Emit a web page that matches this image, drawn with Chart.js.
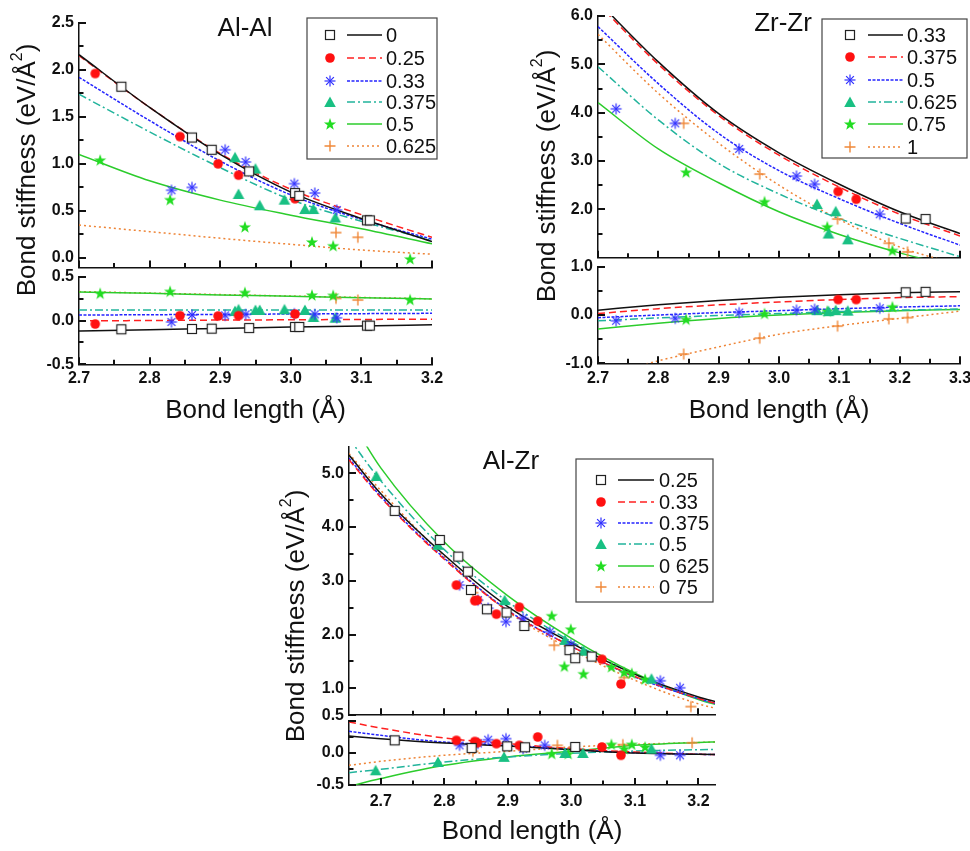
<!DOCTYPE html>
<html>
<head>
<meta charset="utf-8">
<script src="https://cdn.jsdelivr.net/npm/chart.js@4.4.1/dist/chart.umd.min.js"></script>
<style>
  html, body { margin: 0; padding: 0; background: #fff; overflow: hidden; }
  #page { position: relative; width: 970px; height: 851px; }
  #page canvas { position: absolute; }
</style>
</head>
<body>
<div id="page"></div>
<script>
// ---------- Al-Al ----------
const alalSeries = ['0', '0.25', '0.33', '0.375', '0.5', '0.625'];
const alalFitX = [2.7, 2.8, 2.9, 3.0, 3.1, 3.2];
const alalFitMain = [
  [2.16, 1.60, 1.10, 0.70, 0.42, 0.175],
  [2.15, 1.60, 1.11, 0.73, 0.46, 0.22],
  [1.92, 1.46, 1.03, 0.67, 0.41, 0.20],
  [1.74, 1.34, 0.96, 0.62, 0.39, 0.185],
  [1.10, 0.82, 0.615, 0.455, 0.31, 0.15],
  [0.35, 0.28, 0.21, 0.145, 0.085, 0.04]
];
const alalFitRes = [
  [-0.12, -0.105, -0.09, -0.075, -0.062, -0.048],
  [-0.005, 0.0, 0.005, 0.008, 0.012, 0.015],
  [0.062, 0.066, 0.07, 0.074, 0.078, 0.082],
  [0.12, 0.12, 0.12, 0.12, 0.12, 0.12],
  [0.325, 0.31, 0.292, 0.276, 0.26, 0.245],
  [0.33, 0.313, 0.296, 0.279, 0.263, 0.248]
];
const alalPtsX = [
  [2.760, 2.860, 2.888, 2.941, 3.006, 3.012, 3.108, 3.112],
  [2.723, 2.843, 2.897, 2.926, 3.006],
  [2.831, 2.860, 2.907, 2.936, 3.005, 3.034, 3.065],
  [2.921, 2.926, 2.950, 2.956, 2.991, 3.020, 3.032, 3.063],
  [2.730, 2.829, 2.935, 3.030, 3.060, 3.169],
  [3.064, 3.095]
];
const alalPtsY = [
  [1.82, 1.28, 1.15, 0.92, 0.69, 0.66, 0.40, 0.40],
  [1.96, 1.29, 1.00, 0.88, 0.63],
  [0.72, 0.75, 1.15, 1.02, 0.79, 0.69, 0.51],
  [1.07, 0.68, 0.95, 0.56, 0.62, 0.52, 0.52, 0.43],
  [1.04, 0.62, 0.33, 0.17, 0.13, -0.01],
  [0.27, 0.22]
];
const alalPtsRes = [
  [-0.10, -0.097, -0.093, -0.086, -0.074, -0.074, -0.059, -0.059],
  [-0.04, 0.055, 0.051, 0.055, 0.074],
  [-0.017, 0.063, 0.059, 0.07, 0.078, 0.07, 0.03],
  [0.108, 0.127, 0.12, 0.12, 0.127, 0.12, 0.04, 0.032],
  [0.31, 0.333, 0.32, 0.29, 0.287, 0.238],
  [0.253, 0.234]
];
const alalXMajor = [2.7, 2.8, 2.9, 3.0, 3.1, 3.2];
const alalXMinor = [2.75, 2.85, 2.95, 3.05, 3.15];
const alalYMajor = [0.0, 0.5, 1.0, 1.5, 2.0, 2.5];
const alalYMinor = [0.25, 0.75, 1.25, 1.75, 2.25];
const alalResMajor = [-0.5, 0.0, 0.5];
const alalResMinor = [-0.25, 0.25];

// ---------- Zr-Zr ----------
const zrSeries = ['0.33', '0.375', '0.5', '0.625', '0.75', '1'];
const zrFitX = [2.7, 2.8, 2.9, 3.0, 3.1, 3.2, 3.3];
const zrFitMain = [
  [6.30, 5.05, 3.98, 3.17, 2.52, 1.95, 1.50],
  [6.25, 5.00, 3.94, 3.12, 2.46, 1.90, 1.45],
  [5.78, 4.60, 3.57, 2.80, 2.22, 1.71, 1.26],
  [4.95, 3.85, 2.95, 2.32, 1.81, 1.40, 1.02],
  [4.21, 3.25, 2.55, 1.95, 1.48, 1.10, 0.80],
  [5.62, 4.40, 3.37, 2.50, 1.79, 1.22, 0.85]
];
const zrFitRes = [
  [0.10, 0.21, 0.30, 0.37, 0.42, 0.46, 0.48],
  [0.03, 0.13, 0.21, 0.27, 0.32, 0.36, 0.38],
  [-0.055, 0.0, 0.05, 0.09, 0.13, 0.165, 0.19],
  [-0.12, -0.06, -0.01, 0.03, 0.07, 0.10, 0.125],
  [-0.29, -0.17, -0.07, 0.0, 0.05, 0.09, 0.115],
  [-1.3, -0.95, -0.66, -0.40, -0.22, -0.07, 0.08]
];
const zrPtsX = [
  [3.210, 3.243],
  [3.098, 3.128],
  [2.730, 2.828, 2.934, 3.029, 3.059, 3.167],
  [3.063, 3.082, 3.094, 3.114],
  [2.846, 2.976, 3.080, 3.188],
  [2.842, 2.968, 3.097, 3.182, 3.213]
];
const zrPtsY = [
  [1.81, 1.80],
  [2.37, 2.21],
  [4.08, 3.78, 3.25, 2.69, 2.52, 1.90],
  [2.11, 1.50, 1.96, 1.38],
  [2.77, 2.16, 1.64, 1.15],
  [3.78, 2.73, 1.80, 1.30, 1.12]
];
const zrPtsRes = [
  [0.47, 0.48],
  [0.32, 0.32],
  [-0.12, -0.07, 0.05, 0.10, 0.12, 0.14],
  [0.10, 0.08, 0.10, 0.09],
  [-0.09, 0.03, 0.08, 0.17],
  [-0.81, -0.48, -0.23, -0.08, -0.055]
];
const zrXMajor = [2.7, 2.8, 2.9, 3.0, 3.1, 3.2, 3.3];
const zrXMinor = [2.75, 2.85, 2.95, 3.05, 3.15, 3.25];
const zrYMajor = [2.0, 3.0, 4.0, 5.0, 6.0];
const zrYMinor = [1.5, 2.5, 3.5, 4.5, 5.5];
const zrResMajor = [-1.0, 0.0, 1.0];
const zrResMinor = [-0.5, 0.5];

// ---------- Al-Zr ----------
const azSeries = ['0.25', '0.33', '0.375', '0.5', '0 625', '0 75'];
const azFitX = [2.65, 2.7, 2.8, 2.9, 3.0, 3.1, 3.2, 3.23];
const azFitMain = [
  [5.34, 4.62, 3.48, 2.52, 1.84, 1.26, 0.84, 0.74],
  [5.25, 4.55, 3.40, 2.44, 1.78, 1.22, 0.81, 0.71],
  [5.28, 4.57, 3.42, 2.45, 1.78, 1.21, 0.81, 0.71],
  [5.65, 4.86, 3.58, 2.61, 1.87, 1.26, 0.80, 0.70],
  [6.05, 5.10, 3.72, 2.72, 1.93, 1.28, 0.79, 0.69],
  [5.37, 4.68, 3.45, 2.43, 1.72, 1.15, 0.71, 0.62]
];
const azFitRes = [
  [0.266, 0.224, 0.156, 0.109, 0.052, 0.0, -0.02, -0.026],
  [0.484, 0.39, 0.234, 0.146, 0.068, 0.016, -0.02, -0.026],
  [0.339, 0.276, 0.17, 0.12, 0.057, 0.005, -0.02, -0.026],
  [-0.307, -0.255, -0.14, -0.062, -0.005, 0.031, 0.052, 0.057],
  [-0.52, -0.40, -0.193, -0.062, 0.026, 0.12, 0.165, 0.175],
  [-0.193, -0.13, -0.036, 0.026, 0.094, 0.135, 0.165, 0.172]
];
const azPtsX = [
  [2.722, 2.793, 2.822, 2.837, 2.842, 2.867, 2.898, 2.926, 2.997, 3.006, 3.032],
  [2.819, 2.848, 2.852, 2.882, 2.918, 2.947, 3.048, 3.078],
  [2.824, 2.853, 2.869, 2.897, 2.924, 2.966, 2.999, 3.140, 3.171],
  [2.693, 2.790, 2.895, 2.990, 3.019, 3.126],
  [2.969, 2.989, 2.999, 3.019, 3.063, 3.083, 3.095, 3.116],
  [2.845, 2.973, 3.083, 3.188]
];
const azPtsY = [
  [4.30, 3.76, 3.45, 3.17, 2.83, 2.47, 2.41, 2.16, 1.71, 1.56, 1.59],
  [2.92, 2.63, 2.64, 2.38, 2.51, 2.25, 1.54, 1.08],
  [2.92, 2.64, 2.49, 2.24, 2.30, 2.05, 1.81, 1.14, 1.01],
  [4.95, 3.67, 2.64, 1.90, 1.70, 1.18],
  [2.35, 1.41, 2.10, 1.27, 1.40, 1.30, 1.28, 1.17],
  [2.78, 1.80, 1.20, 0.66]
];
const azResX = [
  [2.722, 2.843, 2.899, 2.927, 3.006],
  [2.819, 2.848, 2.852, 2.882, 2.918, 2.947, 3.048, 3.078],
  [2.824, 2.853, 2.869, 2.897, 2.924, 2.958, 3.140, 3.171],
  [2.692, 2.790, 2.894, 2.990, 3.018, 3.126],
  [2.969, 2.995, 3.063, 3.083, 3.095, 3.116],
  [2.845, 2.978, 3.081, 3.190]
];
const azResY = [
  [0.198, 0.078, 0.104, 0.089, 0.094],
  [0.198, 0.18, 0.16, 0.146, 0.12, 0.25, 0.094, -0.036],
  [0.12, 0.15, 0.208, 0.224, 0.068, 0.12, -0.036, -0.036],
  [-0.27, -0.14, -0.06, 0.0, 0.0, 0.068],
  [-0.01, -0.01, 0.135, 0.068, 0.135, 0.094],
  [0.026, 0.12, 0.13, 0.16]
];
const azXMajor = [2.7, 2.8, 2.9, 3.0, 3.1, 3.2];
const azXMinor = [2.75, 2.85, 2.95, 3.05, 3.15];
const azYMajor = [0.5, 1.0, 2.0, 3.0, 4.0, 5.0];
const azYMinor = [1.5, 2.5, 3.5, 4.5];
const azResMajor = [-0.5, 0.0, 0.5];
const azResLabels = [-0.5, 0.0];
const azResMinor = [-0.25, 0.25];

// ---------- styles ----------
const FONT = '"Liberation Sans", Arial, sans-serif';
const lineStyle = [
  { color: '#111111', dash: [] },
  { color: '#ff2020', dash: [7, 4] },
  { color: '#2424ff', dash: [3, 1.5] },
  { color: '#22b49c', dash: [8, 3, 2, 3] },
  { color: '#2ccc2c', dash: [] },
  { color: '#ee8436', dash: [2, 3] }
];

function marker(kind, color) {
  const s = 14, m = 7;
  const c = document.createElement('canvas');
  c.width = s; c.height = s;
  const g = c.getContext('2d');
  g.strokeStyle = color; g.fillStyle = color; g.lineWidth = 1.2;
  if (kind === 'square') {
    g.fillStyle = '#fff'; g.fillRect(2.5, 2.5, 9, 9); g.strokeRect(2.5, 2.5, 9, 9);
  } else if (kind === 'circle') {
    g.beginPath(); g.arc(m, m, 4.8, 0, 2 * Math.PI); g.fill();
  } else if (kind === 'asterisk') {
    for (let k = 0; k < 4; k++) {
      const a = k * Math.PI / 4;
      g.beginPath();
      g.moveTo(m - 5.5 * Math.cos(a), m - 5.5 * Math.sin(a));
      g.lineTo(m + 5.5 * Math.cos(a), m + 5.5 * Math.sin(a));
      g.stroke();
    }
  } else if (kind === 'triangle') {
    g.beginPath(); g.moveTo(m, 1.5); g.lineTo(12.8, 12); g.lineTo(1.2, 12); g.closePath(); g.fill();
  } else if (kind === 'star') {
    g.beginPath();
    for (let k = 0; k < 10; k++) {
      const r = k % 2 ? 2.6 : 6.4;
      const a = -Math.PI / 2 + k * Math.PI / 5;
      const px = m + r * Math.cos(a), py = m + 0.5 + r * Math.sin(a);
      k ? g.lineTo(px, py) : g.moveTo(px, py);
    }
    g.closePath(); g.fill();
  } else if (kind === 'plus') {
    g.lineWidth = 1.4;
    g.beginPath(); g.moveTo(m, 1.5); g.lineTo(m, 12.5); g.moveTo(1.5, m); g.lineTo(12.5, m); g.stroke();
  }
  return c;
}

const markers = [
  marker('square', '#222'),
  marker('circle', '#ff1010'),
  marker('asterisk', '#3030ff'),
  marker('triangle', '#19c083'),
  marker('star', '#22dd22'),
  marker('plus', '#f08838')
];

// ---------- titles, boxed legend and inward tick marks ----------
const decor = {
  id: 'decor',
  afterDraw(chart, args, o) {
    const ctx = chart.ctx;
    const tk = chart.canvas.tickLists;
    if (tk) {
      const a = chart.chartArea, sx = chart.scales.x, sy = chart.scales.y;
      ctx.save();
      ctx.strokeStyle = '#111';
      ctx.lineWidth = 2;
      ctx.beginPath();
      const vx = (list, len) => list.forEach(v => {
        const p = Math.round(sx.getPixelForValue(v));
        ctx.moveTo(p, a.bottom); ctx.lineTo(p, a.bottom - len);
      });
      const vy = (list, len) => list.forEach(v => {
        const p = Math.round(sy.getPixelForValue(v));
        ctx.moveTo(a.left, p); ctx.lineTo(a.left + len, p);
      });
      vx(tk[0], 7); vx(tk[1], 4.5); vy(tk[2], 7); vy(tk[3], 4.5);
      ctx.stroke();
      ctx.restore();
    }
    if (o.title) {
      ctx.save();
      ctx.font = '26px ' + FONT; ctx.fillStyle = '#111';
      ctx.textAlign = 'center'; ctx.textBaseline = 'middle';
      ctx.fillText(o.title.text, o.title.x, o.title.y);
      ctx.restore();
    }
    if (o.yTitle) {
      const t = o.yTitle;
      ctx.save();
      ctx.translate(t.x, t.y);
      ctx.rotate(-Math.PI / 2);
      ctx.fillStyle = '#111';
      ctx.textAlign = 'left'; ctx.textBaseline = 'middle';
      ctx.font = '26px ' + FONT;
      const w1 = ctx.measureText(t.text).width, w3 = ctx.measureText(t.tail).width;
      ctx.font = '16px ' + FONT;
      const w2 = ctx.measureText(t.sup).width;
      const x0 = -(w1 + w2 + w3) / 2;
      ctx.font = '26px ' + FONT; ctx.fillText(t.text, x0, 0);
      ctx.font = '16px ' + FONT; ctx.fillText(t.sup, x0 + w1, -10);
      ctx.font = '26px ' + FONT; ctx.fillText(t.tail, x0 + w1 + w2, 0);
      ctx.restore();
    }
    if (o.legend) {
      const L = o.legend;
      ctx.save();
      ctx.fillStyle = '#fff';
      ctx.fillRect(L.box[0], L.box[1], L.box[2] - L.box[0], L.box[3] - L.box[1]);
      ctx.strokeStyle = '#444'; ctx.lineWidth = 1.2;
      ctx.strokeRect(L.box[0], L.box[1], L.box[2] - L.box[0], L.box[3] - L.box[1]);
      const fits = chart.data.datasets.filter(d => d.role === 'fit');
      const pts = chart.data.datasets.filter(d => d.role === 'pts');
      pts.forEach((d, i) => {
        const y = L.rows[i];
        const img = d.pointStyle;
        ctx.drawImage(img, L.markerX - img.width / 2, y - img.height / 2);
        const f = fits[i];
        ctx.strokeStyle = f.borderColor; ctx.lineWidth = f.borderWidth;
        ctx.setLineDash(f.borderDash);
        ctx.beginPath(); ctx.moveTo(L.line[0], y); ctx.lineTo(L.line[1], y); ctx.stroke();
        ctx.setLineDash([]);
        ctx.fillStyle = '#111'; ctx.font = '20px ' + FONT;
        ctx.textAlign = 'left'; ctx.textBaseline = 'middle';
        ctx.fillText(d.label, L.textX, y + 1);
      });
      ctx.restore();
    }
  }
};

// ---------- builders ----------
function addCanvas(x, y, w, h, ticks) {
  const c = document.createElement('canvas');
  c.width = w; c.height = h;
  c.style.left = x + 'px'; c.style.top = y + 'px';
  c.style.width = w + 'px'; c.style.height = h + 'px';
  c.tickLists = ticks;
  document.getElementById('page').appendChild(c);
  return c;
}

function datasets(labels, fitX, fits, ptsX, ptsY) {
  const out = [];
  labels.forEach((lab, i) => {
    out.push({
      label: lab, role: 'fit', order: 1,
      data: fitX.map((x, j) => ({ x, y: fits[i][j] })),
      showLine: true, pointRadius: 0, pointHoverRadius: 0,
      borderColor: lineStyle[i].color, borderWidth: 1.5, borderDash: lineStyle[i].dash,
      cubicInterpolationMode: 'monotone', fill: false
    });
    out.push({
      label: lab, role: 'pts', order: 0,
      data: ptsX[i].map((x, j) => ({ x, y: ptsY[i][j] })),
      showLine: false, pointStyle: markers[i], pointRadius: 5, pointHoverRadius: 5
    });
  });
  return out;
}

const tickFont = { family: FONT, size: 16, weight: 'bold' };

function xAxis(min, max, labels, height, showLabels, pad) {
  return {
    type: 'linear', min, max,
    grid: { display: false, drawTicks: false },
    border: { display: true, color: '#111', width: 1.5 },
    afterBuildTicks: s => { s.ticks = labels.map(v => ({ value: v })); },
    ticks: {
      display: showLabels, padding: pad, maxRotation: 0, autoSkip: false,
      font: tickFont, color: '#111', callback: v => v.toFixed(1)
    },
    title: {
      display: showLabels, text: 'Bond length (Å)', color: '#111',
      font: { family: FONT, size: 26 }, padding: { top: 0, bottom: 3.4 }
    },
    afterFit: s => { s.height = height; }
  };
}

function yAxis(min, max, labels, width) {
  return {
    type: 'linear', min, max,
    grid: { display: false, drawTicks: false },
    border: { display: true, color: '#111', width: 1.5 },
    afterBuildTicks: s => { s.ticks = labels.map(v => ({ value: v })); },
    ticks: { padding: 5, font: tickFont, color: '#111', callback: v => v.toFixed(1) },
    afterFit: s => { s.width = width; }
  };
}

function chart(canvas, data, x, y, padding, decorOpts) {
  return new Chart(canvas, {
    type: 'scatter',
    data: { datasets: data },
    options: {
      responsive: false, animation: false, devicePixelRatio: 1,
      layout: { padding },
      scales: { x, y },
      plugins: {
        legend: { display: false }, tooltip: { enabled: false },
        decor: decorOpts
      }
    },
    plugins: [decor]
  });
}

const yTitleText = { text: 'Bond stiffness (eV/Å', sup: '2', tail: ')' };

// ---------- Al-Al panel ----------
chart(addCanvas(0, 0, 450, 420, [alalXMajor, alalXMinor, alalYMajor, alalYMinor]),
  datasets(alalSeries, alalFitX, alalFitMain, alalPtsX, alalPtsY),
  xAxis(2.7, 3.2, alalXMajor, 6, false, 0),
  yAxis(-0.1, 2.5, alalYMajor, 79),
  { top: 22.7, right: 18, bottom: 146.6, left: 0 },
  {
    title: { text: 'Al-Al', x: 245, y: 29 },
    yTitle: Object.assign({ x: 28, y: 170 }, yTitleText),
    legend: { box: [307, 18, 437, 159], rows: [35, 58, 81, 102, 124, 146], markerX: 330, line: [347, 382], textX: 386 }
  });

chart(addCanvas(0, 255, 450, 175, [alalXMajor, alalXMinor, alalResMajor, alalResMinor]),
  datasets(alalSeries, alalFitX, alalFitRes, alalPtsX, alalPtsRes),
  xAxis(2.7, 3.2, alalXMajor, 65.7, true, 5),
  yAxis(-0.5, 0.5, alalResMajor, 79),
  { top: 21.7, right: 18, bottom: 0, left: 0 },
  {});

// ---------- Zr-Zr panel ----------
chart(addCanvas(520, 0, 460, 430, [zrXMajor, zrXMinor, zrYMajor, zrYMinor]),
  datasets(zrSeries, zrFitX, zrFitMain, zrPtsX, zrPtsY),
  xAxis(2.7, 3.3, zrXMajor, 6, false, 0),
  yAxis(1.0, 6.0, zrYMajor, 78),
  { top: 16, right: 20, bottom: 166.3, left: 0 },
  {
    title: { text: 'Zr-Zr', x: 263, y: 24 },
    yTitle: Object.assign({ x: 28, y: 176 }, yTitleText),
    legend: { box: [302, 19, 447, 158], rows: [35, 57, 80, 102, 124, 147], markerX: 330, line: [348, 383], textX: 387 }
  });

chart(addCanvas(520, 248, 460, 182, [zrXMajor, zrXMinor, zrResMajor, zrResMinor]),
  datasets(zrSeries, zrFitX, zrFitRes, zrPtsX, zrPtsRes),
  xAxis(2.7, 3.3, zrXMajor, 66.7, true, 6),
  yAxis(-1.0, 1.0, zrResMajor, 78),
  { top: 18.7, right: 20, bottom: 0, left: 0 },
  {});

// ---------- Al-Zr panel ----------
chart(addCanvas(260, 430, 480, 421, [azXMajor, azXMinor, azYMajor, azYMinor]),
  datasets(azSeries, azFitX, azFitMain, azPtsX, azPtsY),
  xAxis(2.65, 3.226, azXMajor, 5, false, 0),
  yAxis(0.5, 5.5, azYMajor, 89),
  { top: 16.4, right: 25, bottom: 130.8, left: 0 },
  {
    title: { text: 'Al-Zr', x: 251, y: 32 },
    yTitle: Object.assign({ x: 37, y: 186 }, yTitleText),
    legend: { box: [316, 29, 453, 172], rows: [50, 72, 93, 114, 136, 157], markerX: 341, line: [358, 394], textX: 399 }
  });

chart(addCanvas(260, 700, 480, 151, [azXMajor, azXMinor, azResMajor, azResMinor]),
  datasets(azSeries, azFitX, azFitRes, azResX, azResY),
  xAxis(2.65, 3.226, azXMajor, 66, true, 7),
  yAxis(-0.5, 0.5, azResLabels, 89),
  { top: 21, right: 25, bottom: 0, left: 0 },
  {});
</script>
</body>
</html>
